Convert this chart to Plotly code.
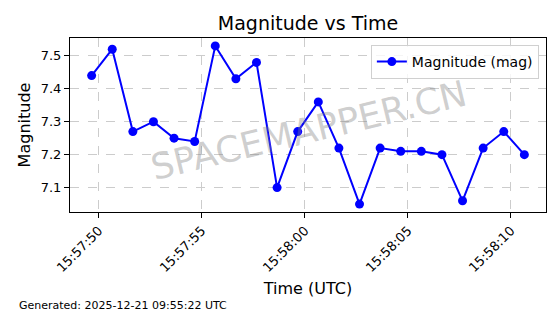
import plotly.graph_objects as go
import pandas as pd

seconds = [49.65 + i for i in range(22)]
magnitudes = [7.44, 7.52, 7.27, 7.30, 7.25, 7.24, 7.53, 7.43, 7.48, 7.10, 7.27,
              7.36, 7.22, 7.05, 7.22, 7.21, 7.21, 7.20, 7.06, 7.22, 7.27, 7.20]
base = pd.Timestamp("2025-12-21 15:57:00")
times = [base + pd.Timedelta(seconds=s) for s in seconds]
tick_times = [base + pd.Timedelta(seconds=s) for s in [50, 55, 60, 65, 70]]
tick_labels = ["15:57:50", "15:57:55", "15:58:00", "15:58:05", "15:58:10"]
y_ticks = [7.1, 7.2, 7.3, 7.4, 7.5]

span = (times[-1] - times[0]) * 0.05
ymin, ymax = min(magnitudes), max(magnitudes)
ypad = (ymax - ymin) * 0.05

fig = go.Figure()
fig.add_trace(go.Scatter(
    x=times, y=magnitudes, mode="lines+markers", name="Magnitude (mag)",
    line=dict(color="#0000ff", width=2),
    marker=dict(color="#0000ff", size=9),
))

font = "DejaVu Sans"
L, R, T, B = 70, 14, 38, 102
pw, ph = 560 - L - R, 314 - T - B

fig.update_layout(
    width=560, height=314,
    margin=dict(l=L, r=R, t=T, b=B),
    paper_bgcolor="white", plot_bgcolor="white",
    font=dict(family=font, color="black", size=13),
    title=dict(text="Magnitude vs Time", x=0.5, xref="paper", xanchor="center",
               y=1 - 23 / 314, yanchor="middle", font=dict(size=19, family=font)),
    showlegend=True,
    legend=dict(x=0.985, y=0.96, xanchor="right", yanchor="top",
                bgcolor="rgba(255,255,255,0.8)", bordercolor="#d0d0d0", borderwidth=1,
                font=dict(size=14, family=font)),
    xaxis=dict(
        type="date",
        range=[times[0] - span, times[-1] + span],
        tickvals=tick_times, ticktext=tick_labels, tickangle=-45,
        showline=True, linecolor="black", linewidth=1, mirror=True,
        ticks="outside", ticklen=5, tickcolor="black",
        showgrid=True, gridcolor="#cccccc", griddash="dash", gridwidth=1,
        zeroline=False,
        title=dict(text="Time (UTC)", font=dict(size=16, family=font), standoff=8),
        tickfont=dict(size=13, family=font),
    ),
    yaxis=dict(
        range=[ymin - ypad, ymax + ypad],
        tickvals=y_ticks, ticktext=[f"{v:.1f}" for v in y_ticks],
        showline=True, linecolor="black", linewidth=1, mirror=True,
        ticks="outside", ticklen=5, tickcolor="black",
        showgrid=True, gridcolor="#cccccc", griddash="dash", gridwidth=1,
        zeroline=False,
        title=dict(text="Magnitude", font=dict(size=16, family=font), standoff=6),
        tickfont=dict(size=13, family=font),
    ),
)

fig.add_annotation(
    text="SPACEMAPPER.CN", xref="paper", yref="paper", x=0.5, y=0.47,
    showarrow=False, textangle=-13.5,
    font=dict(size=36, family=font, color="rgba(128,128,128,0.38)"),
)
fig.add_annotation(
    text="Generated: 2025-12-21 09:55:22 UTC", xref="paper", yref="paper",
    x=(17 - L) / pw, y=(314 - B - 305) / ph, showarrow=False,
    xanchor="left", yanchor="middle",
    font=dict(size=11, family=font),
)

fig.write_html("out.html")
